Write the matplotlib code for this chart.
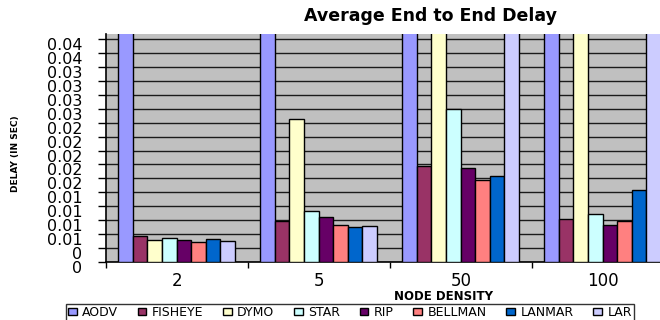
import numpy as np
import matplotlib
matplotlib.use("Agg")
import matplotlib.pyplot as plt
from matplotlib.transforms import ScaledTranslation

# Node densities (categories) and protocol series
densities = ["2", "5", "50", "100"]
protocols = ["AODV", "FISHEYE", "DYMO", "STAR", "RIP", "BELLMAN", "LANMAR", "LAR"]

aodv    = [0.0600, 0.0600, 0.0600, 0.0600]
fisheye = [0.0047, 0.0074, 0.0172, 0.0077]
dymo    = [0.0040, 0.0256, 0.0500, 0.0500]
star    = [0.0043, 0.0091, 0.0274, 0.0086]
rip     = [0.0039, 0.0081, 0.0168, 0.0066]
bellman = [0.0036, 0.0066, 0.0147, 0.0074]
lanmar  = [0.0041, 0.0062, 0.0154, 0.0130]
lar     = [0.0037, 0.0065, 0.0500, 0.0500]

series = [aodv, fisheye, dymo, star, rip, bellman, lanmar, lar]
colors = ["#9999FF", "#993366", "#FFFFCC", "#CCFFFF",
          "#660066", "#FF8080", "#0066CC", "#CCCCFF"]

# Value axis ticks and their displayed (rounded) labels
y_ticks = [0.0, 0.0025, 0.005, 0.0075, 0.01, 0.0125, 0.015, 0.0175, 0.02,
           0.0225, 0.025, 0.0275, 0.03, 0.0325, 0.035, 0.0375, 0.04]
y_tick_labels = ["0", "0", "0.01", "0.01", "0.01", "0.01", "0.02", "0.02", "0.02",
                 "0.02", "0.02", "0.03", "0.03", "0.03", "0.03", "0.04", "0.04"]

W, H = 660, 320
fig = plt.figure(figsize=(W / 100, H / 100), dpi=100)
fig.patch.set_facecolor("white")

ax_left, ax_right = 106 / W, 674 / W
ax_bottom, ax_top = 1 - 262 / H, 1 - 34 / H
ax = fig.add_axes([ax_left, ax_bottom, ax_right - ax_left, ax_top - ax_bottom])
ax.set_facecolor("#C0C0C0")

n = len(series)
bar_w = 0.103
offset = 0.0845
x = np.arange(len(densities))
for j, (vals, c, name) in enumerate(zip(series, colors, protocols)):
    pos = x - 0.5 + offset + (j + 0.5) * bar_w
    ax.bar(pos, vals, width=bar_w, color=c, edgecolor="black",
           linewidth=1.0, label=name, zorder=3)

ax.set_xlim(-0.5, len(densities) - 0.5)
ax.set_ylim(0, 0.0409)

ax.set_yticks(y_ticks)
ax.set_yticklabels(y_tick_labels)
ax.yaxis.grid(True, color="#1a1a1a", linewidth=1.0, zorder=1)
ax.set_axisbelow(True)
ax.tick_params(axis="y", direction="out", length=6, width=1, pad=11,
               labelsize=11.5, colors="black")
for lbl in ax.get_yticklabels():
    lbl.set_transform(lbl.get_transform() +
                      ScaledTranslation(0, -5 / 100, fig.dpi_scale_trans))

# Category labels at group centres, tick marks at group boundaries
ax.set_xticks(x)
ax.set_xticklabels(densities)
ax.set_xticks(np.arange(len(densities) + 1) - 0.5, minor=True)
ax.tick_params(axis="x", which="major", length=0, pad=7, labelsize=12)
ax.tick_params(axis="x", which="minor", direction="out", length=4, width=1)

for s in ["top", "right"]:
    ax.spines[s].set_visible(False)
ax.spines["left"].set_linewidth(1.2)
ax.spines["bottom"].set_linewidth(1.2)

fig.text(430 / W, 1 - 16 / H, "Average End to End Delay",
         ha="center", va="center", fontsize=12.5, fontweight="bold")
fig.text(444 / W, 1 - 296 / H, "NODE DENSITY",
         ha="center", va="center", fontsize=8.5, fontweight="bold")
fig.text(16 / W, 1 - 154 / H, "DELAY (IN SEC)", rotation=90,
         ha="center", va="center", fontsize=6.5, fontweight="bold")

leg = fig.legend(loc="upper left", bbox_to_anchor=(66 / W, 1 - 304 / H),
                 ncol=n, fontsize=9, frameon=True, fancybox=False,
                 handlelength=0.7, handleheight=0.55, handletextpad=0.45,
                 columnspacing=1.55, borderaxespad=0, borderpad=0.15)
leg.get_frame().set_edgecolor("black")
leg.get_frame().set_linewidth(1.0)

fig.savefig("out.png", dpi=100, facecolor="white")
